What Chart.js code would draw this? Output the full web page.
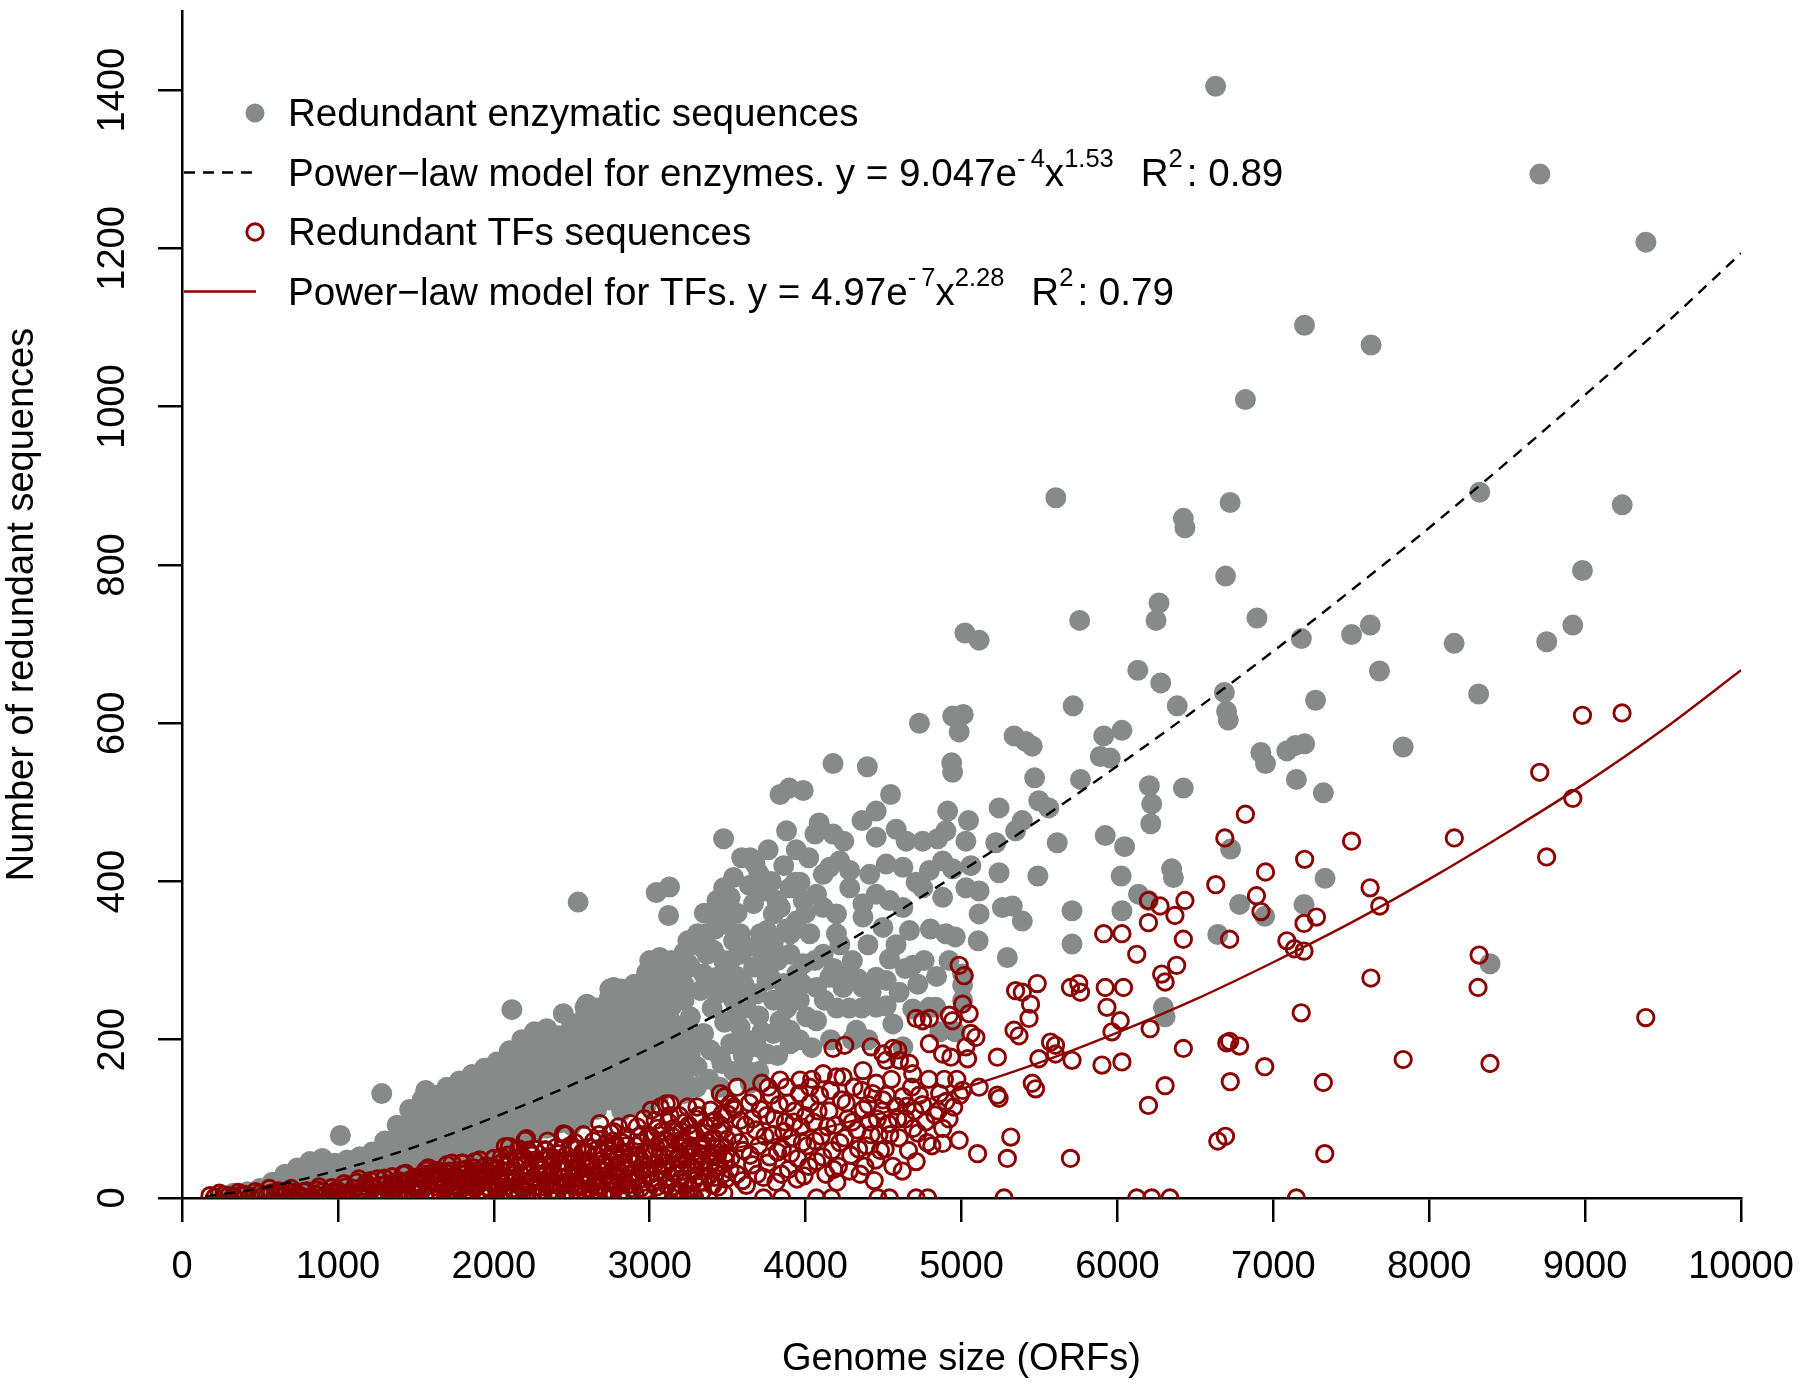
<!DOCTYPE html>
<html>
<head>
<meta charset="utf-8">
<script src="https://cdn.jsdelivr.net/npm/chart.js@4/dist/chart.umd.min.js"></script>
<style>html,body{margin:0;padding:0;background:#fff}canvas{display:block}</style>
</head>
<body>
<canvas id="c" width="1800" height="1388"></canvas>
<script>
// ---------- tick values ----------
const xTicks = [0,1000,2000,3000,4000,5000,6000,7000,8000,9000,10000];
const yTicks = [0,200,400,600,800,1000,1200,1400];

// ---------- legend text ----------
const legendLabels = ['Redundant enzymatic sequences','Power\u2212law model for enzymes.','Redundant TFs sequences','Power\u2212law model for TFs.'];
const enzModel = ['9.047','-4','1.53','0.89'];
const tfModel = ['4.97','-7','2.28','0.79'];

// ---------- fitted model lines ----------
const enzCurve = [[150,2],[500,12],[1000,35],[1500,65],[2000,102],[2500,143],[3000,189],[3500,239],[4000,294],[4500,351],[5000,413],[5500,478],[6000,546],[6500,617],[7000,691],[7500,768],[8000,847],[8500,930],[9000,1015],[9500,1102],[10000,1194]];
const tfCurve = [[150,0],[500,1],[1000,3],[1500,9],[2000,17],[2500,28],[3000,43],[3500,61],[4000,83],[4500,108],[5000,138],[5500,171],[6000,209],[6500,251],[7000,298],[7500,348],[8000,403],[8500,462],[9000,524],[9500,592],[10000,667]];

// ---------- redundant enzymatic sequences ----------
const enzymeHigh = [
[6630,1405],[8710,1294],[9390,1208],[7200,1103],[7627,1078],[6821,1009],
[5605,885],[6723,879],[8324,892],[9238,876],[6423,859],[6433,847],
[6694,786],[8983,793],[6267,752],[6248,730],[5758,730],[6895,733],
[7180,707],[7502,712],[7622,724],[8160,701],[8754,703],[8921,724],
[5022,714],[5113,705],[6131,667],[6278,651],[7681,666],[6686,639],
[7271,629],[8317,637],[5716,622],[6384,622],[4943,609],[5011,611],
[4730,600],[4985,589],[6700,615],[6711,604],[6920,563],[6950,549],
[7087,565],[7142,572],[7201,574],[7833,570],[7148,529],[7321,512],
[6726,441],[7332,404],[6784,371],[7197,371],[6945,356],[6644,333],[8390,296],
[4176,549],[4396,545],[3836,510],[3895,518],[3985,515],[4545,510],
[5337,584],[5411,577],[5454,571],[5912,584],[6029,591],[5890,558],
[5954,556],[4937,550],[4943,538],[5469,531],[5763,529],[6205,521],[6423,518]
];
const enzymeMid = [
[4087,474],[3878,464],[3474,454],[3644,430],[3676,422],[4362,477],
[4453,489],[4176,460],[4245,451],[4453,456],[4581,466],[4645,451],
[4751,451],[4847,454],[4911,489],[5045,477],[4900,464],[5028,451],
[5241,493],[5220,449],[5347,464],[5390,477],[5496,502],[5560,493],
[5614,449],[5922,458],[6046,444],[6220,498],[6214,473],[5060,420],
[5241,411],[5490,407],[6024,407],[6348,416],[6359,405],[3538,405],
[3964,399],[4113,409],[4155,418],[4219,426],[4283,414],[4411,409],
[4517,422],[4624,418],[4709,399],[4794,414],[4879,426],[4943,416],
[3474,392],[3516,380],[3431,376],[3389,359],[3666,372],[3729,388],
[3815,376],[3793,359],[3900,392],[3985,376],[4070,384],[4113,367],
[4198,359],[4283,392],[4368,372],[4453,384],[4538,376],[4624,367],
[4751,392],[4879,380],[5028,392],[5113,388],[5262,367],[5326,369],
[5390,350],[5709,363],[6029,363],[6135,384],[6199,376],
[5113,359],[4900,334],[4368,355],[4496,342],[4666,338],[3942,350],
[4027,334],[3751,338],[3580,334],[3367,334],[3282,325],[4198,334],
[3350,360],[3420,340],[3560,360],[3640,395],[3700,410],[3760,440],
[3780,400],[3860,420],[3940,440],[4020,430],[4060,460],[4000,360],
[3880,340],[3820,300]
];
const enzymeLow = [
[5107,325],[5709,321],[5294,304],[4687,294],[4538,302],[4453,279],
[4517,275],[4262,281],[4336,277],[5007,283],[5007,269],[3367,308],
[3474,300],[3580,308],[3687,317],[3793,317],[3900,308],[3985,296],
[4113,308],[3261,292],[3346,283],[3431,279],[3516,283],[3602,271],
[3687,292],[3772,279],[3857,271],[3942,283],[4070,266],[4155,279],
[4240,266],[4368,266],[3325,262],[3431,258],[3538,250],[3687,258],
[3793,250],[5007,250],[6295,241],[6306,229],[4006,229],[4070,224],
[3580,216],[3836,224],[3900,212],[4326,212],[4453,241],[4517,243],
[4687,239],[4794,241],[4836,241],[4624,191],[3687,191],[3751,182],
[3623,161],[3644,145],[3453,178],[3463,170],[3261,229],[3346,208],
[3282,195],[3389,187],[3304,166],[3793,208],[3900,195],
[3400,240],[3480,222],[3560,236],[3620,200],[3700,230],[3860,250],
[3960,250],[3520,195],[3600,180],[3380,150],[3450,140],[3540,160],
[3700,160],[3820,180],[3960,200],[4040,190],[4160,200],[4200,240],
[4280,240],[4120,250],[3300,140],[3260,180],
[3740,300],[3640,260],[3560,280],[3480,260],[3620,240],[3720,210],
[3880,240],[3980,270],[4060,300],[4180,290],[4220,320],[4300,300],
[4400,320],[4420,260],[4360,240],[4300,200],[4400,200],[4560,220],
[4600,260],[4580,320],[4640,290],[4720,270],[4760,300],[4800,340],
[4840,280],[4920,300],[4960,330],[4860,210],[4960,210],
[3042,386],[3127,393],[3121,357],[3000,300],[3064,304],[3149,279],
[3245,325],[3245,296],[3332,317],[3233,292],[3590,430],[3470,367],
[3491,346],[3307,334],[3442,374],[3838,367],[3934,399],[3164,279],
[3410,313],[3538,325],[3624,317],[3710,334],[3795,325],[3902,334],
[3517,300],[3667,292],[3431,275],[3581,271],[3752,275],[3902,266],
[1281,132],[1016,79],[1563,136],[2116,238],[2541,374],[2446,233],
[2585,241],[2606,235],[2744,264],[2819,264],[2585,206],[2733,224],
[2597,245],[2768,266],[2854,262],[2939,271],[3004,275]
];
const enzymeBlob = [
[250,3],[330,6],[420,8],[420,3],[500,12],[500,4],[580,20],[580,8],
[660,30],[660,15],[660,5],[740,38],[740,22],[740,8],[820,46],[820,30],[820,14],
[900,50],[900,34],[900,18],[900,6],[980,44],[980,26],[980,10],
[1060,48],[1060,32],[1060,16],[1140,52],[1140,36],[1140,20],
[1220,58],[1220,42],[1220,26],[1220,12],[1300,72],[1300,55],[1300,38],[1300,22],
[1380,92],[1380,75],[1380,58],[1380,42],[1380,26],
[1460,112],[1460,95],[1460,78],[1460,61],[1460,44],[1460,28],
[1540,124],[1540,106],[1540,88],[1540,70],[1540,52],[1540,35],
[1620,130],[1620,113],[1620,96],[1620,79],[1620,62],[1620,45],[1620,30],
[1700,140],[1700,122],[1700,104],[1700,86],[1700,68],[1700,50],[1700,34],
[1780,148],[1780,131],[1780,114],[1780,97],[1780,80],[1780,63],[1780,46],
[1860,156],[1860,138],[1860,120],[1860,102],[1860,84],[1860,66],[1860,50],
[1940,164],[1940,146],[1940,128],[1940,110],[1940,92],[1940,74],[1940,56],
[2020,172],[2020,154],[2020,136],[2020,118],[2020,100],[2020,82],[2020,62],
[2100,186],[2100,168],[2100,150],[2100,132],[2100,114],[2100,96],[2100,78],[2100,62],
[2180,200],[2180,182],[2180,164],[2180,146],[2180,128],[2180,110],[2180,92],[2180,72],
[2260,210],[2260,192],[2260,174],[2260,156],[2260,138],[2260,120],[2260,102],[2260,82],
[2340,214],[2340,196],[2340,178],[2340,160],[2340,142],[2340,124],[2340,106],[2340,88],
[2420,205],[2420,187],[2420,169],[2420,151],[2420,133],[2420,115],[2420,95],
[2500,220],[2500,202],[2500,184],[2500,166],[2500,148],[2500,130],[2500,112],[2500,92],
[2580,228],[2580,210],[2580,192],[2580,174],[2580,156],[2580,138],[2580,120],[2580,100],
[2660,240],[2660,222],[2660,204],[2660,186],[2660,168],[2660,150],[2660,132],[2660,112],
[2740,252],[2740,234],[2740,216],[2740,198],[2740,180],[2740,162],[2740,144],[2740,124],
[2820,258],[2820,240],[2820,222],[2820,204],[2820,186],[2820,168],[2820,150],[2820,130],[2820,110],
[2900,270],[2900,250],[2900,230],[2900,212],[2900,194],[2900,176],[2900,158],[2900,138],[2900,118],
[2980,285],[2980,262],[2980,240],[2980,220],[2980,200],[2980,180],[2980,160],[2980,140],[2980,118],
[3060,290],[3060,270],[3060,250],[3060,230],[3060,210],[3060,190],[3060,170],[3060,150],[3060,130],
[3140,300],[3140,262],[3140,242],[3140,222],[3140,202],[3140,182],[3140,162],[3140,142],
[3220,310],[3220,270],[3220,250],[3220,212],[3220,190],[3220,170],[3220,150],[3220,132]
];

// ---------- redundant TF sequences ----------
const tfSparse = [
[8983,610],[9237,613],[8709,538],[8921,505],[6821,485],[6689,455],
[7502,451],[8161,455],[7201,428],[8753,431],[6950,412],[6631,396],
[6892,382],[7621,392],[6921,362],[7683,369],[7277,355],[7197,347],
[6720,327],[7087,325],[7135,315],[7197,312],[8320,307],[7626,278],
[8313,266],[7179,234],[9389,228],[6702,196],[6720,198],[6784,192],
[6945,166],[7833,175],[8390,170],[6724,147],[7321,146],[6644,72],
[6693,78],[7330,56],[7148,0]
];
const tfMid = [
[6199,376],[6274,369],[6433,376],[6369,357],[6199,348],
[6423,327],[6284,283],[6306,273],[6380,294],[5912,334],[6029,334],
[6124,308],[5699,266],[5752,271],[5763,260],[5922,266],[6039,266],
[5933,241],[6018,224],[5965,210],[6210,214],[6423,189],[6306,142],
[6199,117],[5901,168],[6029,172],[5486,271],[5347,262],[5390,260],
[5443,245],[5433,227],[5337,212],[5369,205],[5571,197],[5603,193],
[5496,176],[5603,182],[5709,174],[5454,145],[5475,138],[5230,130],
[5241,126],[5230,178],[5316,77],[5294,50],[5103,56],[5699,50],
[4879,69],[4985,73],[4709,46],[5113,140],[5007,136],
[4985,294],[5017,281],[4709,227],[4751,224],[4794,227],[4922,231],
[4943,224],[5007,245],[5049,233],[5060,208],[5092,203],[4794,195],
[4176,189],[4251,193],[4421,191],[4496,182],[4560,189],[4592,187],
[4517,174],[4602,174],[4666,170],[4687,157],[4879,182],[4932,178],
[5028,191],[5039,176]
];
const tfAxis = [
[3150,0],[3220,0],[3290,0],[3730,0],[3846,0],[4070,0],[4166,0],[4464,0],
[4538,0],[4709,0],[4783,0],[5273,0],[6124,0],[6220,0],[6337,0]
];
const tfBlob = [
[180,3],[240,6],[300,3],[360,7],[410,4],[470,8],[520,3],[570,6],[620,9],[660,4],[710,7],[760,3],[800,9],[850,5],[900,8],[950,3],[990,10],[560,12],[700,12],[880,14],[960,13],
[1030,4],[1050,14],[1090,8],[1120,20],[1150,4],[1180,14],[1210,22],[1240,6],[1270,16],[1300,25],[1330,5],[1350,12],[1390,22],[1420,30],[1440,6],[1470,15],[1490,26],[1350,27],[1435,31],[1180,19],
[1520,5],[1530,18],[1550,30],[1580,38],[1600,8],[1620,22],[1650,34],[1680,12],[1700,42],[1710,26],[1740,4],[1760,16],[1780,35],[1800,44],[1820,8],[1840,25],[1870,38],[1890,14],[1910,48],[1930,30],[1950,5],[1970,20],[1990,40],[1563,35],[1627,35],[1733,44],[1797,44],
[2020,8],[2030,28],[2050,52],[2060,18],[2080,40],[2100,65],[2110,6],[2130,30],[2150,50],[2170,15],[2190,40],[2210,75],[2220,60],[2240,6],[2250,25],[2270,48],[2300,14],[2310,36],[2330,60],[2350,4],[2360,28],[2390,50],[2410,16],[2420,38],[2440,62],[2460,80],[2470,8],[2480,28],[2500,48],[2074,65],[2201,73],[2329,61],[2414,56],
[2520,70],[2530,16],[2550,36],[2570,58],[2590,6],[2600,26],[2620,46],[2640,72],[2660,14],[2680,94],[2690,36],[2700,58],[2720,6],[2730,22],[2750,82],[2760,46],[2780,68],[2790,14],[2810,32],[2830,56],[2850,78],[2860,6],[2870,24],[2890,44],[2910,66],[2920,90],[2940,12],[2950,34],[2970,56],[2990,78],[2447,81],[2768,84],
[3010,111],[3020,20],[3030,42],[3040,64],[3050,88],[3070,8],[3080,30],[3090,52],[3100,74],[3106,119],[3120,96],[3140,14],[3150,38],[3160,60],[3170,84],[3190,104],[3200,24],[3210,48],[3220,70],[3244,115],[3250,92],[3260,12],[3270,36],[3280,58],[3290,80],[3310,104],[3320,20],[3330,46],[3340,68],[3360,90],[3380,28],[3390,111],[3400,52],[3410,76],[3420,98],[3440,14],[3450,40],[3460,64],[3470,86],[3480,128],[3490,24],[3500,106],[3068,115],[3131,119],[3303,115],[3453,132],[3517,119],[3538,115],
[3520,50],[3540,80],[3560,30],[3580,98],[3600,60],[3620,16],[3640,120],[3660,42],[3680,86],[3700,66],[3719,145],[3730,26],[3750,104],[3761,140],[3770,52],[3790,80],[3810,20],[3830,118],[3836,149],[3850,62],[3870,96],[3878,140],[3890,36],[3910,76],[3930,110],[3950,50],[3964,149],[3970,90],[3990,28],[4010,66],[4027,140],[4030,120],[3560,140],[3660,100],
[4050,96],[4070,46],[4090,130],[4100,78],[4113,157],[4130,30],[4150,110],[4170,60],[4190,92],[4198,153],[4210,40],[4230,124],[4240,153],[4250,76],[4270,100],[4290,54],[4310,140],[4330,86],[4350,30],[4368,161],[4370,112],[4390,66],[4410,96],[4430,132],[4450,48],[4453,145],[4470,80],[4490,110],[4496,124],[4380,40],[4200,20],[4440,22],
[4510,62],[4530,94],[4550,150],[4560,40],[4580,116],[4600,76],[4624,128],[4640,100],[4660,60],[4680,140],[4700,110],[4720,82],[4750,118],[4770,96],[4790,150],[4810,66],[4830,105],[4860,132],[4880,88],[4900,122],[4920,100],[4950,115],[4970,150],[4990,130],[4620,34]
];
const tfBlob2 = [
[210,1],[270,4],[330,2],[390,5],[440,2],[500,6],[545,2],[600,4],[640,7],[690,2],[735,5],[780,8],[830,2],[870,10],[920,4],[970,7],
[1010,8],[1040,18],[1070,2],[1100,12],[1135,24],[1160,9],[1195,3],[1225,13],[1255,24],[1285,8],[1315,18],[1345,2],[1370,20],[1400,10],[1410,2],[1455,22],[1480,9],[1500,18],
[1510,26],[1540,10],[1565,24],[1590,2],[1610,30],[1635,14],[1660,4],[1665,24],[1690,32],[1720,18],[1725,8],[1750,28],[1770,6],[1790,22],[1815,36],[1830,16],[1855,4],[1860,30],[1880,46],[1900,24],[1920,8],[1945,40],[1960,14],[1980,30],[2000,50],
[2010,36],[2040,14],[2045,44],[2070,28],[2090,54],[2095,4],[2120,20],[2140,40],[2160,62],[2160,6],[2180,28],[2200,50],[2230,18],[2235,38],[2260,62],[2280,6],[2290,30],[2320,48],[2340,20],[2345,72],[2375,40],[2380,10],[2400,64],[2430,26],[2450,46],[2455,4],[2490,66],[2495,16],[2510,38],
[2525,50],[2540,4],[2560,24],[2575,80],[2585,44],[2610,64],[2615,12],[2635,34],[2650,54],[2670,4],[2675,80],[2705,24],[2710,44],[2725,70],[2745,10],[2770,34],[2775,56],[2800,90],[2805,4],[2820,44],[2840,20],[2845,66],[2875,94],[2880,54],[2895,12],[2900,32],[2930,78],[2935,50],[2960,20],[2965,100],[2980,40],[2995,62],
[3005,30],[3015,76],[3035,98],[3045,14],[3060,52],[3075,84],[3090,4],[3100,40],[3115,64],[3130,104],[3135,26],[3155,88],[3175,10],[3180,50],[3190,72],[3215,34],[3230,96],[3235,60],[3255,4],[3260,80],[3285,22],[3295,100],[3300,46],[3315,66],[3335,8],[3350,34],[3355,82],[3370,56],[3395,96],[3405,16],[3425,38],[3430,64],[3445,84],[3465,106],[3475,6],[3485,48],[3495,74],
[3515,36],[3545,112],[3575,70],[3595,22],[3615,92],[3645,54],[3665,128],[3690,30],[3710,112],[3740,78],[3755,44],[3780,130],[3800,100],[3820,58],[3845,30],[3860,84],[3885,120],[3905,56],[3925,96],[3945,24],[3960,132],[3980,70],[4000,104],[4020,40],[4040,150],[4060,72],[4080,110],[4110,52],[4140,90],[4160,136],[4180,36],[4220,70],[4260,120],[4280,34],[4300,96],[4340,62],[4360,136],[4400,118],[4420,80],[4460,100],[4480,60],[4520,130],[4540,80],[4590,100],[4650,116],[4690,88],[4730,130],[4780,70],[4850,110],[4890,150]
];
const tfBlob3 = [
[1200,10],[1260,2],[1320,12],[1380,6],[1430,18],[1460,2],[1505,12],[1530,28],[1560,4],[1575,16],[1615,6],[1640,26],[1670,18],[1700,2],[1715,34],[1735,14],[1765,26],[1785,10],[1810,30],[1835,2],[1850,20],[1875,12],[1895,34],[1915,22],[1935,2],[1955,28],[1975,10],[1995,22],
[2015,16],[2035,2],[2055,34],[2065,8],[2085,22],[2105,44],[2125,12],[2145,26],[2155,2],[2175,46],[2195,20],[2215,8],[2225,34],[2245,54],[2265,14],[2285,40],[2295,22],[2315,4],[2325,28],[2355,16],[2365,52],[2385,30],[2405,6],[2415,44],[2435,16],[2445,34],[2465,54],[2475,20],[2495,2],
[2515,26],[2535,62],[2545,14],[2565,44],[2580,30],[2595,58],[2605,18],[2625,2],[2630,40],[2655,26],[2665,62],[2685,14],[2695,48],[2715,34],[2735,60],[2740,2],[2755,20],[2765,72],[2785,40],[2795,26],[2815,8],[2825,70],[2835,36],[2855,16],[2865,50],[2885,30],[2905,6],[2915,54],[2925,22],[2945,70],[2955,42],[2975,10],[2985,30],
[3025,56],[3055,22],[3065,70],[3085,44],[3110,16],[3125,54],[3145,78],[3165,30],[3185,6],[3195,56],[3205,84],[3225,20],[3240,44],[3265,66],[3275,4],[3295,34],[3325,56],[3345,20],[3365,72],[3385,44],[3415,26],[3435,54],[3455,92],[3470,30],[3490,56]
];

// ---------- rendering ----------
const FONT = "'Liberation Sans', Arial, Helvetica, sans-serif";
Chart.defaults.font.family = FONT;
const GREY = '#868b89';
const DARKRED = '#8b0000';
const toXY = a => a.map(p => ({x: p[0], y: p[1]}));
const enzymePoints = toXY([].concat(enzymeBlob, enzymeLow, enzymeMid, enzymeHigh));
const tfPoints = toXY([].concat(tfBlob, tfBlob2, tfBlob3, tfAxis, tfMid, tfSparse));

function modelRow(label, m) {
  return [
    {t: label + ' y = ' + m[0] + 'e'},
    {t: m[1].replace('-', '-\u2009'), sup: true},
    {t: 'x'},
    {t: m[2], sup: true},
    {gap: 27},
    {t: 'R'},
    {t: '2', sup: true},
    {gap: 4},
    {t: ': ' + m[3]}
  ];
}
const legendRows = [
  [{t: legendLabels[0]}],
  modelRow(legendLabels[1], enzModel),
  [{t: legendLabels[2]}],
  modelRow(legendLabels[3], tfModel)
];

const rLegend = {
  id: 'rLegend',
  afterDraw(chart) {
    const ctx = chart.ctx;
    const mainF = '38.6px ' + FONT, supF = '25.5px ' + FONT;
    const textX = 288, markX = 255;
    const baselines = [126, 185.5, 245, 304.5];
    ctx.save();
    legendRows.forEach((segs, i) => {
      let x = textX;
      const yb = baselines[i];
      ctx.fillStyle = '#000';
      ctx.textAlign = 'left';
      ctx.textBaseline = 'alphabetic';
      segs.forEach(s => {
        if (s.gap) { x += s.gap; return; }
        ctx.font = s.sup ? supF : mainF;
        ctx.fillText(s.t, x, s.sup ? yb - 19 : yb);
        x += ctx.measureText(s.t).width;
      });
      const my = yb - 13;
      ctx.setLineDash([]);
      if (i === 0) {
        ctx.fillStyle = GREY;
        ctx.beginPath(); ctx.arc(markX, my, 9.5, 0, Math.PI * 2); ctx.fill();
      } else if (i === 1) {
        ctx.strokeStyle = '#000'; ctx.lineWidth = 2.4; ctx.setLineDash([11, 8]);
        ctx.beginPath(); ctx.moveTo(184, my); ctx.lineTo(256, my); ctx.stroke();
      } else if (i === 2) {
        ctx.strokeStyle = DARKRED; ctx.lineWidth = 2.9;
        ctx.beginPath(); ctx.arc(markX, my, 8.2, 0, Math.PI * 2); ctx.stroke();
      } else {
        ctx.strokeStyle = DARKRED; ctx.lineWidth = 2.4;
        ctx.beginPath(); ctx.moveTo(184, my); ctx.lineTo(256, my); ctx.stroke();
      }
    });
    ctx.restore();
  }
};

const axisCommon = {
  grid: {display: true, drawOnChartArea: false, drawTicks: true, tickLength: 24, color: '#000', lineWidth: 2.5},
  border: {display: true, color: '#000', width: 2.5}
};

new Chart(document.getElementById('c'), {
  type: 'scatter',
  data: {
    datasets: [
      {label: legendLabels[1], data: toXY(enzCurve), showLine: true, borderColor: '#000', borderWidth: 2.4,
       borderDash: [11, 8], pointRadius: 0, fill: false, cubicInterpolationMode: 'monotone', order: 0},
      {label: legendLabels[3], data: toXY(tfCurve), showLine: true, borderColor: DARKRED, borderWidth: 2.4,
       pointRadius: 0, fill: false, cubicInterpolationMode: 'monotone', order: 0},
      {label: legendLabels[2], data: tfPoints, pointRadius: 8.2, pointBorderWidth: 2.9,
       pointBorderColor: DARKRED, pointBackgroundColor: 'rgba(0,0,0,0)', borderColor: DARKRED,
       backgroundColor: 'rgba(0,0,0,0)', order: 1},
      {label: legendLabels[0], data: enzymePoints, pointRadius: 10.5, pointBorderWidth: 0,
       pointBackgroundColor: GREY, backgroundColor: GREY, borderColor: GREY, order: 2}
    ]
  },
  options: {
    responsive: false,
    animation: false,
    devicePixelRatio: 1,
    events: [],
    layout: {padding: {top: 8, right: 59, bottom: 0, left: 0}},
    plugins: {legend: {display: false}, tooltip: {enabled: false}},
    scales: {
      x: Object.assign({}, axisCommon, {
        type: 'linear', position: 'bottom', min: 0, max: 10000,
        afterBuildTicks: s => { s.ticks = xTicks.map(v => ({value: v})); },
        afterFit: s => { s.height = 190; s.paddingLeft = 0; s.paddingRight = 0; },
        ticks: {color: '#000', font: {size: 38}, padding: 23, maxRotation: 0, minRotation: 0, autoSkip: false,
                callback: v => String(v)},
        title: {display: true, text: 'Genome size (ORFs)', color: '#000', font: {size: 38}, padding: {top: 0, bottom: 6}}
      }),
      y: Object.assign({}, axisCommon, {
        type: 'linear', position: 'left', min: 0, max: 1500,
        afterBuildTicks: s => { s.ticks = yTicks.map(v => ({value: v})); },
        afterFit: s => { s.width = 182; s.paddingTop = 0; s.paddingBottom = 0; },
        ticks: {color: '#000', font: {size: 38}, padding: 2, minRotation: 90, maxRotation: 90,
                crossAlign: 'center', autoSkip: false, callback: v => String(v)},
        title: {display: true, text: 'Number of redundant sequences', color: '#000', font: {size: 38}, padding: {top: 0, bottom: 0}}
      })
    }
  },
  plugins: [rLegend]
});
</script>
</body>
</html>
